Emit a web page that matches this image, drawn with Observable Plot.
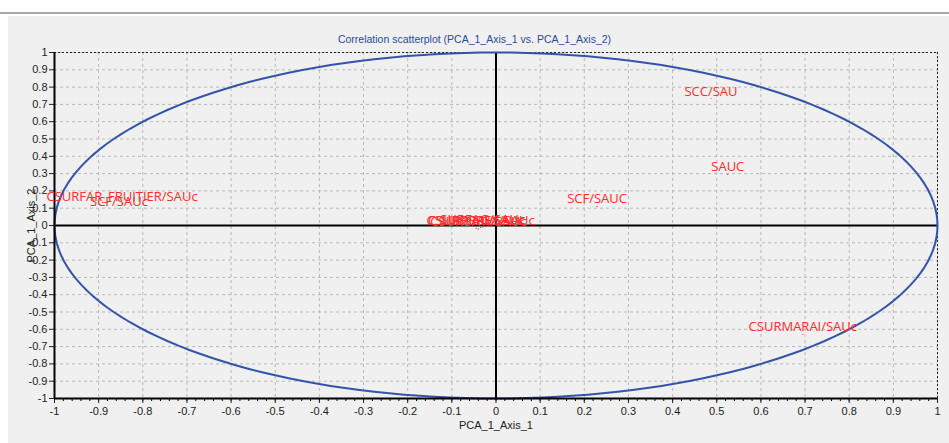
<!DOCTYPE html>
<html>
<head>
<meta charset="utf-8">
<script src="https://cdn.jsdelivr.net/npm/d3@7"></script>
<script src="https://cdn.jsdelivr.net/npm/@observablehq/plot@0.6"></script>
<style>
  html, body { margin: 0; padding: 0; background: #ffffff; width: 949px; height: 443px; overflow: hidden; }
  #topband { height: 12px; background: #ffffff; border-bottom: 2px solid #a8a8a8; }
  #panel { position: absolute; left: 8px; top: 16px; width: 941px; height: 427px; background: #eff0ef; }
  #title { position: absolute; left: 0; top: 33px; width: 949px; text-align: center;
           font: 10.5px "Liberation Sans", Arial, sans-serif; color: #2b4a9c; }
  #chart { position: absolute; left: 0; top: 46px; }
</style>
</head>
<body>
<div id="topband"></div>
<div id="panel"></div>
<div id="title">Correlation scatterplot (PCA_1_Axis_1 vs. PCA_1_Axis_2)</div>
<div id="chart"></div>
<script>
// Variable labels and their coordinates on the correlation circle
const labels = [
  "SCC/SAU", "SAUC", "SCF/SAUC", "CSURMARAI/SAUc",
  "CSURFAR_FRUITIER/SAUc", "SCF/SAUc",
  "CSURFOREX/SAUc", "CSURPRAI/SAUc", "SURFAG/SAUc", "CSURBATI/SAUc"
];
const axis1 = [0.487, 0.525, 0.229, 0.695, -0.847, -0.854, -0.035, -0.045, -0.030, -0.040];
const axis2 = [0.734, 0.295, 0.110, -0.630, 0.127, 0.098, -0.012, -0.017, -0.008, -0.020];

const ticks = d3.range(-10, 11).map(i => i / 10);
const minorTicks = d3.range(-50, 51).map(i => i / 50);
const fmt = d => String(+d.toFixed(1));

const points = labels.map((name, i) => ({name, x: axis1[i], y: axis2[i]}));
const circle = d3.range(0, 361, 2).map(a => ({x: Math.cos(a * Math.PI / 180), y: Math.sin(a * Math.PI / 180)}));

const chart = Plot.plot({
  width: 949,
  height: 397,
  marginLeft: 54,
  marginRight: 12,
  marginTop: 6,
  marginBottom: 45,
  style: {background: "transparent", fontFamily: "Liberation Sans, Arial, sans-serif", fontSize: "11px", color: "#222"},
  x: {domain: [-1, 1], ticks: ticks, tickFormat: fmt, label: null},
  y: {domain: [-1, 1], ticks: ticks, tickFormat: fmt, label: null},
  marks: [
    Plot.gridX(ticks, {stroke: "#b8b8b8", strokeOpacity: 1, strokeDasharray: "3,3"}),
    Plot.gridY(ticks, {stroke: "#b8b8b8", strokeOpacity: 1, strokeDasharray: "3,3"}),
    Plot.ruleY([1], {stroke: "#222", strokeDasharray: "2,2"}),
    Plot.ruleX([1], {stroke: "#222", strokeDasharray: "2,2"}),
    Plot.ruleX([0], {stroke: "#000", strokeWidth: 2}),
    Plot.ruleY([0], {stroke: "#000", strokeWidth: 2}),
    Plot.line(circle, {x: "x", y: "y", stroke: "#3354a8", strokeWidth: 2}),
    Plot.axisX(minorTicks, {tickSize: 3, text: null, stroke: "#000", label: null}),
    Plot.axisX(ticks, {tickSize: 5, tickFormat: fmt, fill: "#222", fontSize: 11, tickPadding: 4,
      label: "PCA_1_Axis_1", labelAnchor: "center", labelArrow: "none", labelOffset: 30}),
    Plot.axisY(ticks, {tickSize: 5, tickFormat: fmt, fill: "#222", fontSize: 11, tickPadding: 2,
      label: "PCA_1_Axis_2", labelAnchor: "center", labelArrow: "none", labelOffset: 27}),
    Plot.ruleX([-1], {stroke: "#000", strokeWidth: 2}),
    Plot.ruleY([-1], {stroke: "#000", strokeWidth: 2}),
    Plot.dot(points, {x: "x", y: "y", r: 0.6, fill: "#e83030", stroke: null}),
    Plot.text(points, {x: "x", y: "y", text: "name", lineAnchor: "bottom", dy: -3, fill: "#ff2b2b",
      fontSize: 13, fontFamily: "Open Sans, Noto Sans, sans-serif"})
  ]
});
document.getElementById("chart").appendChild(chart);
</script>
</body>
</html>
